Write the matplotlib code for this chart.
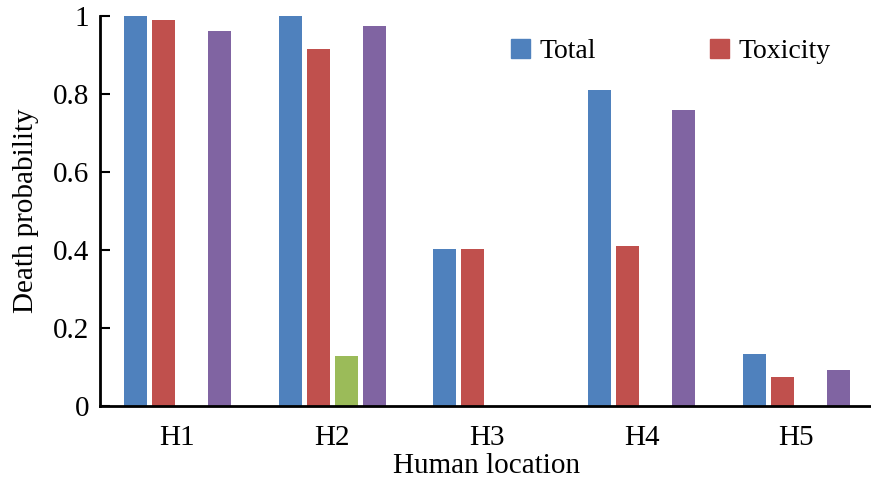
import matplotlib
matplotlib.use("Agg")
import matplotlib.pyplot as plt
import numpy as np
from matplotlib.patches import Patch

categories = ["H1", "H2", "H3", "H4", "H5"]
total = [1.0, 1.0, 0.402, 0.81, 0.133]
toxicity = [0.99, 0.915, 0.402, 0.41, 0.074]
series3 = [0.0, 0.128, 0.0, 0.0, 0.0]
series4 = [0.962, 0.974, 0.0, 0.759, 0.092]
yticks = [0, 0.2, 0.4, 0.6, 0.8, 1]
ytick_labels = ["0", "0.2", "0.4", "0.6", "0.8", "1"]

colors = ["#4F81BD", "#C0504D", "#9BBB59", "#8064A2"]

plt.rcParams['font.family'] = ['Liberation Serif', 'DejaVu Serif']
fig = plt.figure(figsize=(8.71, 4.82), dpi=100)
ax = fig.add_axes([100/871, 76/482, 773.75/871, 390/482])

x = np.arange(len(categories))
step = 0.181
width = 0.149
for i, (vals, c) in enumerate(zip([total, toxicity, series3, series4], colors)):
    ax.bar(x + (i - 1.5) * step, vals, width, color=c, clip_on=False, zorder=2)

ax.set_xlim(-0.5, 4.5)
ax.set_ylim(0, 1)
ax.set_yticks(yticks)
ax.set_yticklabels(ytick_labels)
ax.set_xticks(x)
ax.set_xticklabels(categories)
ax.tick_params(axis='y', direction='in', length=7, width=1.5, labelsize=21, pad=8)
ax.tick_params(axis='x', length=0, labelsize=21, pad=14)
for s in ['top', 'right']:
    ax.spines[s].set_visible(False)
for s in ['left', 'bottom']:
    ax.spines[s].set_linewidth(2)
    ax.spines[s].set_zorder(3)

ax.set_ylabel("Death probability", fontsize=21, labelpad=10)
ax.set_xlabel("Human location", fontsize=21, labelpad=1)

handles = [Patch(color=colors[0], label="Total"), Patch(color=colors[1], label="Toxicity")]
fig.legend(handles=handles, loc='upper left', bbox_to_anchor=(511/871, 1 - 39/482),
           ncol=2, frameon=False, fontsize=20, handlelength=0.68, handleheight=0.68,
           handletextpad=0.35, columnspacing=4.1, borderaxespad=0, borderpad=0)

fig.savefig("out.png", dpi=100)
